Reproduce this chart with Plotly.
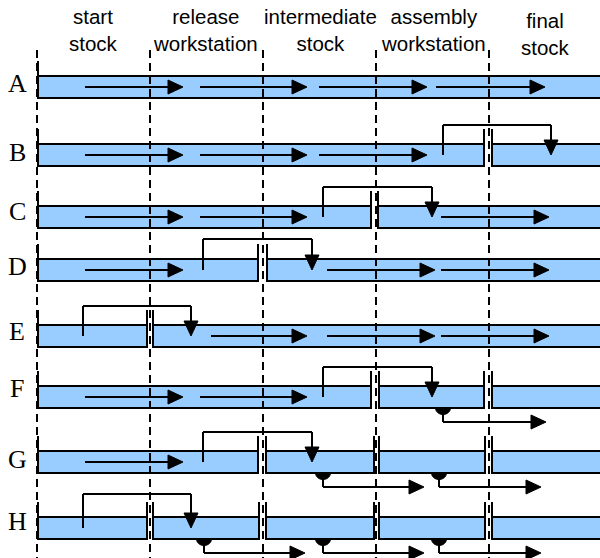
import numpy as np
import plotly.graph_objects as go

# ---- data ----
divider_x = [37, 150, 263, 376, 489]
headers = ["start<br>stock", "release<br>workstation", "intermediate<br>stock",
           "assembly<br>workstation", "final<br>stock"]
header_x = [93, 205, 320, 433, 545]
header_y = [30, 30, 30, 30, 34]

rows = ["A", "B", "C", "D", "E", "F", "G", "H"]
row_top = [76, 144, 206, 259, 325, 386, 451, 517]
label_y = [83, 152, 211, 266, 331, 388, 459, 521]
BAR_H = 22
RIGHT = 612

segments = {
    "A": [(38, RIGHT)],
    "B": [(38, 484), (492, RIGHT)],
    "C": [(38, 371), (378, RIGHT)],
    "D": [(38, 258), (267, RIGHT)],
    "E": [(38, 147), (153, RIGHT)],
    "F": [(38, 371), (379, 484), (492, RIGHT)],
    "G": [(38, 258), (266, 374), (379, 485), (492, RIGHT)],
    "H": [(38, 147), (153, 259), (266, 374), (379, 485), (492, RIGHT)],
}
push_arrows = {
    "A": [(85, 183), (200, 307), (319, 427), (436, 545)],
    "B": [(85, 183), (200, 307), (319, 427)],
    "C": [(85, 183), (200, 307), (441, 549)],
    "D": [(85, 183), (327, 435), (441, 549)],
    "E": [(211, 307), (327, 435), (441, 549)],
    "F": [(85, 183), (200, 307)],
    "G": [(85, 183)],
    "H": [],
}
# kanban loops: (start x, end x, top y of loop)
loops = {
    "B": (443, 551, 125),
    "C": (323, 432, 187),
    "D": (203, 312, 239),
    "E": (83, 191, 306),
    "F": (323, 432, 367),
    "G": (203, 312, 432),
    "H": (83, 191, 494),
}
# pull withdrawals: (x of half disc, arrow end x)
pulls = {
    "F": [(443, 546)],
    "G": [(323, 424), (439, 541)],
    "H": [(204, 305), (323, 424), (439, 541)],
}

BLUE = "#99CCFF"
shapes = []
annotations = []


def line(x0, y0, x1, y1, w=2, dash=None):
    d = dict(type="line", xref="x", yref="y", x0=x0, y0=y0, x1=x1, y1=y1,
             line=dict(color="black", width=w))
    if dash:
        d["line"]["dash"] = dash
    shapes.append(d)


def poly(pts):
    p = "M " + " L ".join(f"{x:.2f},{y:.2f}" for x, y in pts) + " Z"
    shapes.append(dict(type="path", xref="x", yref="y", path=p,
                       fillcolor="black", line=dict(color="black", width=1)))


def head_right(xt, y, L=15, hw=7):
    poly([(xt, y), (xt - L, y - hw), (xt - L, y + hw)])


def head_down(x, yt, L=15, hw=7):
    poly([(x, yt), (x - hw, yt - L), (x + hw, yt - L)])


# bars
for r, top in zip(rows, row_top):
    bot = top + BAR_H
    for (x0, x1) in segments[r]:
        shapes.append(dict(type="rect", xref="x", yref="y", x0=x0, x1=x1, y0=top, y1=bot,
                           fillcolor=BLUE, line=dict(color="black", width=2)))
        line(x0, top - 15, x0, bot)
        if x1 < 600:
            line(x1, top - 15, x1, bot)

# dashed dividers
for x in divider_x:
    line(x, 50, x, 558, w=2, dash="8px,5px")

for r, top, lyab in zip(rows, row_top, label_y):
    bot = top + BAR_H
    cy = top + BAR_H / 2
    for (x0, x1) in push_arrows[r]:
        line(x0, cy, x1 - 12, cy)
        head_right(x1, cy)
    if r in loops:
        xs, xe, ly = loops[r]
        line(xs, cy, xs, ly)
        line(xs, ly, xe, ly)
        line(xe, ly, xe, cy - 12)
        head_down(xe, cy)
    for (px, pe) in pulls.get(r, []):
        t = np.linspace(0, np.pi, 25)
        pts = [(px + 7.5 * np.cos(a), bot + 6.5 * np.sin(a)) for a in t]
        poly(pts)
        ly = bot + 14
        line(px, bot, px, ly)
        line(px, ly, pe - 12, ly)
        head_right(pe, ly)
    annotations.append(dict(x=17, y=lyab, xref="x", yref="y", text=r, showarrow=False,
                            font=dict(family="Liberation Serif", size=26, color="black"),
                            xanchor="center", yanchor="middle"))

for t, x, y in zip(headers, header_x, header_y):
    annotations.append(dict(x=x, y=y, xref="x", yref="y", text=t, showarrow=False,
                            font=dict(family="Liberation Sans", size=20.5, color="black"),
                            xanchor="center", yanchor="middle"))

fig = go.Figure()
fig.update_layout(
    width=600, height=558, margin=dict(l=0, r=0, t=0, b=0),
    paper_bgcolor="white", plot_bgcolor="white",
    xaxis=dict(range=[0, 600], visible=False, fixedrange=True),
    yaxis=dict(range=[558, 0], visible=False, fixedrange=True),
    shapes=shapes, annotations=annotations, showlegend=False,
)
fig.write_html("out.html", config={"displayModeBar": False},
               post_script="document.body.style.margin='0';document.body.style.padding='0';")
